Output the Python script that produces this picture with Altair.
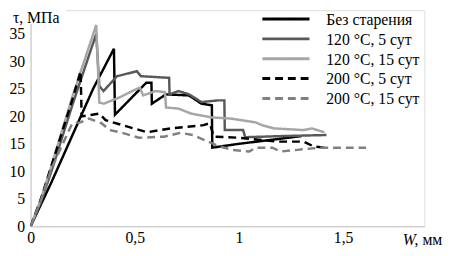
import altair as alt
import pandas as pd

series_names = ["Без старения", "120 °C, 5 сут", "120 °C, 15 сут", "200 °C, 5 сут", "200 °C, 15 сут"]

x_none = [0, 0.1, 0.2, 0.3, 0.40, 0.405, 0.555, 0.58, 0.582, 0.65, 0.76, 0.82, 0.87, 0.872, 1.0, 1.15, 1.30]
y_none = [0, 8, 16.5, 25, 32.3, 20.3, 26.1, 26.1, 22.3, 24.0, 23.8, 22.3, 22.0, 14.3, 15.0, 15.7, 16.4]

x_120_5 = [0, 0.05, 0.1, 0.2, 0.315, 0.33, 0.35, 0.415, 0.51, 0.53, 0.665, 0.667, 0.71, 0.76, 0.82, 0.90, 0.93, 0.932, 1.02, 1.03, 1.2, 1.42]
y_120_5 = [0, 4.5, 10, 22, 35.0, 25.5, 24.6, 27.3, 28.2, 27.3, 27.0, 24.0, 24.6, 24.0, 22.6, 22.9, 22.9, 17.5, 17.5, 16.2, 16.4, 16.6]

x_120_15 = [0, 0.05, 0.1, 0.2, 0.315, 0.33, 0.352, 0.43, 0.51, 0.525, 0.54, 0.6, 0.645, 0.65, 0.71, 0.77, 0.87, 0.96, 1.08, 1.11, 1.17, 1.31, 1.35, 1.41]
y_120_15 = [0, 5, 11, 23.5, 36.6, 22.5, 22.3, 23.5, 25.0, 25.2, 23.8, 24.6, 24.4, 21.6, 21.4, 20.5, 19.8, 19.6, 18.9, 18.4, 17.8, 17.5, 17.8, 17.1]

x_200_5 = [0, 0.05, 0.1, 0.2, 0.24, 0.245, 0.33, 0.36, 0.44, 0.56, 0.67, 0.83, 0.86, 0.88, 1.0, 1.11, 1.19, 1.31, 1.36, 1.41]
y_200_5 = [0, 5, 11, 23, 28.2, 20.0, 20.5, 19.3, 18.4, 17.1, 17.8, 18.4, 18.75, 16.3, 16.1, 15.7, 15.4, 15.4, 14.5, 14.3]

x_200_15 = [0, 0.05, 0.1, 0.2, 0.24, 0.28, 0.34, 0.38, 0.44, 0.52, 0.64, 0.72, 0.78, 0.81, 0.9, 0.97, 1.05, 1.08, 1.16, 1.2, 1.28, 1.39, 1.47, 1.61]
y_200_15 = [0, 4.8, 10.5, 18.75, 18.9, 19.6, 18.75, 17.5, 17.0, 16.1, 16.3, 17.0, 16.6, 16.1, 14.6, 13.9, 13.6, 14.3, 14.3, 13.6, 13.9, 14.3, 14.3, 14.3]

x_ticks = [0, 0.5, 1, 1.5]
y_ticks = [0, 5, 10, 15, 20, 25, 30, 35]

colors = ["#000000", "#595959", "#a6a6a6", "#000000", "#808080"]
dashes = [[1, 0], [1, 0], [1, 0], [8, 5], [8, 5]]

rows = []
for name, xs, ys in zip(series_names,
                        [x_none, x_120_5, x_120_15, x_200_5, x_200_15],
                        [y_none, y_120_5, y_120_15, y_200_5, y_200_15]):
    for i, (xv, yv) in enumerate(zip(xs, ys)):
        rows.append({"series": name, "x": xv, "y": yv, "i": i})
df = pd.DataFrame(rows)

FONT = "Times New Roman, Liberation Serif, serif"

lines = alt.Chart(df).mark_line(strokeWidth=2.5, clip=True).encode(
    x=alt.X("x:Q", scale=alt.Scale(domain=[0, 1.89], nice=False),
            axis=alt.Axis(values=x_ticks, title=None, grid=False, ticks=False,
                          labelExpr="replace(toString(datum.value), '.', ',')",
                          labelFont=FONT, labelFontSize=16, labelColor="#000",
                          labelPadding=4, domainColor="#c8c8c8", labelFlush=False)),
    y=alt.Y("y:Q", scale=alt.Scale(domain=[0, 39.3], nice=False),
            axis=alt.Axis(values=y_ticks, title=None, grid=False, ticks=False,
                          labelFont=FONT, labelFontSize=16, labelColor="#000",
                          labelPadding=6, domainColor="#c8c8c8")),
    color=alt.Color("series:N", sort=series_names,
                    scale=alt.Scale(domain=series_names, range=colors), legend=None),
    strokeDash=alt.StrokeDash("series:N", sort=series_names,
                              scale=alt.Scale(domain=series_names, range=dashes), legend=None),
    order="i:Q",
)

one = alt.Data(values=[{"a": 1}])

layers = [lines]

# legend (drawn by hand so that rows are 20px apart as in the reference)
for k, (name, col, dash) in enumerate(zip(series_names, colors, dashes)):
    ry = 9 + 20.2 * k
    layers.append(alt.Chart(one).mark_rule(color=col, strokeWidth=3, strokeDash=dash).encode(
        x=alt.value(236), x2=alt.value(284), y=alt.value(ry)))
    layers.append(alt.Chart(one).mark_text(text=name, font=FONT, fontSize=16, align="left",
                                           baseline="middle", color="#000").encode(
        x=alt.value(301), y=alt.value(ry + 1)))

layers.append(alt.Chart(one).mark_rect(fill="white").encode(
    x=alt.value(-22), x2=alt.value(36), y=alt.value(-2), y2=alt.value(14)))
layers.append(alt.Chart(one).mark_text(text="τ, МПа", font=FONT, fontSize=16, align="left",
                                       baseline="top", color="#000").encode(
    x=alt.value(-18), y=alt.value(0)))
layers.append(alt.Chart(one).mark_text(text="W", font=FONT, fontSize=16, fontStyle="italic",
                                       align="left", baseline="middle", color="#000").encode(
    x=alt.value(379), y=alt.value(234)))
layers.append(alt.Chart(one).mark_text(text=", мм", font=FONT, fontSize=16, align="left",
                                       baseline="middle", color="#000").encode(
    x=alt.value(391), y=alt.value(234)))

chart = alt.layer(*layers).properties(
    width=401, height=220,
    autosize=alt.AutoSizeParams(type="none"),
    padding={"left": 23, "top": 0, "right": 22, "bottom": 28},
).configure_view(stroke="#c8c8c8", strokeWidth=1).configure(background="white")

chart.save("out.html", embed_options={"renderer": "svg", "actions": False})
